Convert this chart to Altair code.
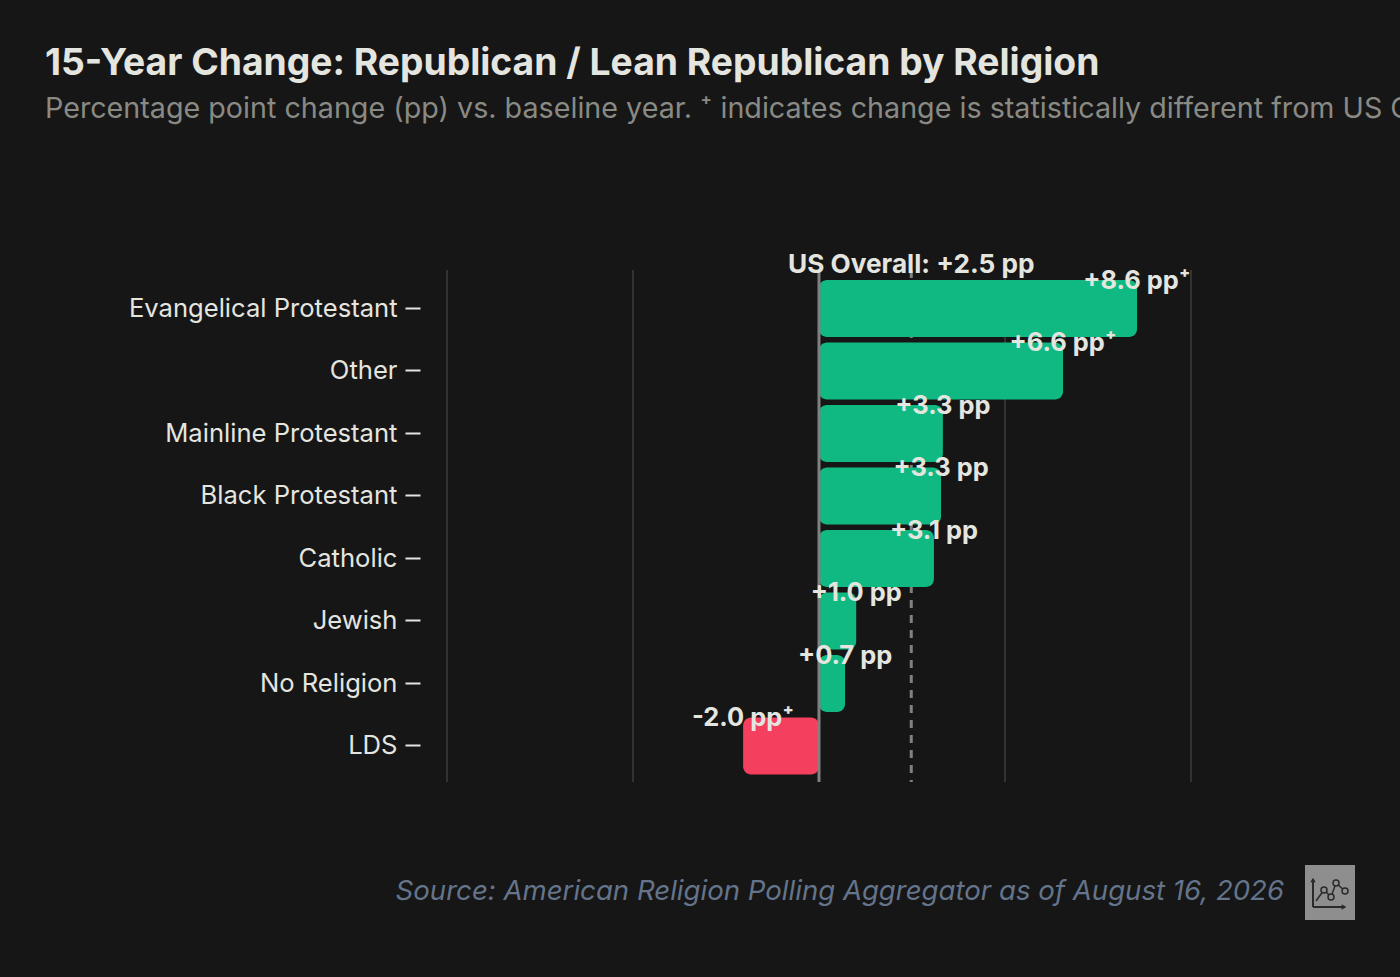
import altair as alt
import pandas as pd

categories = ["Evangelical Protestant", "Other", "Mainline Protestant", "Black Protestant",
              "Catholic", "Jewish", "No Religion", "LDS"]
values = [8.55, 6.56, 3.33, 3.28, 3.09, 1.0, 0.7, -2.04]
labels = ["+8.6 pp⁺", "+6.6 pp⁺", "+3.3 pp", "+3.3 pp", "+3.1 pp", "+1.0 pp", "+0.7 pp", "-2.0 pp⁺"]
overall = 2.48
x_ticks = [-10, -5, 0, 5, 10]
icon_line_x = [1316, 1324, 1331, 1336, 1345]
icon_line_y = [901, 890, 897, 883, 891]

TITLE = "15-Year Change: Republican / Lean Republican by Religion"
SUBTITLE = "Percentage point change (pp) vs. baseline year. ⁺ indicates change is statistically different from US Overall"
SOURCE = "Source: American Religion Polling Aggregator as of August 16, 2026"
BG = "#161616"
FONT = "Inter"
TEXT = "#e5e5e0"
OX, OY = 447, 270   # left/top padding

df = pd.DataFrame({"cat": categories, "val": values, "label": labels})
xs = alt.Scale(domain=[-10, 10], nice=False, zero=False)
ys = alt.Scale(domain=categories, paddingInner=0.088, paddingOuter=0.14, align=0.57)

grid = alt.Chart(pd.DataFrame({"x": x_ticks})).mark_rule(color="#333333", strokeWidth=2).encode(
    x=alt.X("x:Q", scale=xs, axis=None))

us = alt.Chart(pd.DataFrame({"x": [overall]})).mark_rule(
    color="#808080", strokeWidth=3, strokeDash=[8, 7]).encode(x=alt.X("x:Q", scale=xs, axis=None))

zero = alt.Chart(pd.DataFrame({"x": [0]})).mark_rule(color="#808080", strokeWidth=3).encode(
    x=alt.X("x:Q", scale=xs, axis=None))

bars = alt.Chart(df).mark_bar(cornerRadius=8).encode(
    x=alt.X("val:Q", scale=xs, axis=None),
    x2=alt.X2(datum=0),
    y=alt.Y("cat:N", scale=ys, sort=categories, title=None,
            axis=alt.Axis(domain=False, grid=False, offset=27, tickSize=15, tickWidth=2,
                          tickColor=TEXT, labelPadding=8, labelFontSize=25.6, labelOffset=0.5,
                          labelColor=TEXT, labelFont=FONT, labelFontWeight=400, labelLimit=400)),
    color=alt.condition(alt.datum.val >= 0, alt.value("#10b981"), alt.value("#f43f5e")),
)

texts = alt.Chart(df).mark_text(font=FONT, fontSize=25.4, fontWeight=700, color=TEXT,
                                align="center", baseline="middle", dy=1).encode(
    x=alt.X("val:Q", scale=xs, axis=None),
    y=alt.Y("cat:N", scale=ys, sort=categories, bandPosition=0, title=None),
    text="label:N",
)

us_text = alt.Chart(pd.DataFrame({"x": [overall], "t": ["US Overall: +2.5 pp"]})).mark_text(
    font=FONT, fontSize=26.2, fontWeight=700, color=TEXT, align="center", baseline="middle"
).encode(x=alt.X("x:Q", scale=xs, axis=None), y=alt.value(265 - OY), text="t:N")

source = alt.Chart(pd.DataFrame({"t": [SOURCE]})).mark_text(
    font=FONT, fontSize=27.6, fontStyle="italic", color="#64748b", align="right", baseline="middle"
).encode(x=alt.value(1284 - OX), y=alt.value(892 - OY), text="t:N")

def rx(v):
    return alt.value(v - OX)
def ry(v):
    return alt.value(v - OY)

one = pd.DataFrame({"a": [0]})
INK = "#2a2a2a"
icon_df = pd.DataFrame({"x": [v - OX for v in icon_line_x], "y": [v - OY for v in icon_line_y]})
icon_bg = alt.Chart(one).mark_rect(color="#8e8e8e").encode(x=rx(1305), x2=rx(1355), y=ry(865), y2=ry(920))
icon_v = alt.Chart(one).mark_rule(color=INK, strokeWidth=2).encode(x=rx(1313), y=ry(880), y2=ry(907))
icon_h = alt.Chart(one).mark_rule(color=INK, strokeWidth=2).encode(x=rx(1313), x2=rx(1345), y=ry(907))
icon_up = alt.Chart(one).mark_point(shape="triangle-up", filled=True, color=INK, size=30, opacity=1).encode(
    x=rx(1313), y=ry(880))
icon_right = alt.Chart(one).mark_point(shape="triangle-right", filled=True, color=INK, size=30, opacity=1).encode(
    x=rx(1344), y=ry(907))
icon_line = alt.Chart(icon_df).mark_line(color=INK, strokeWidth=1.5).encode(
    x=alt.X("x:Q", scale=None), y=alt.Y("y:Q", scale=None))
icon_pts = alt.Chart(icon_df.iloc[1:]).mark_point(
    filled=True, fill="#8e8e8e", stroke=INK, strokeWidth=1.5, size=36, opacity=1).encode(
    x=alt.X("x:Q", scale=None), y=alt.Y("y:Q", scale=None))

chart = alt.layer(grid, us, bars, zero, texts, us_text, source,
                  icon_bg, icon_v, icon_h, icon_up, icon_right, icon_line, icon_pts).properties(
    width=744, height=512,
    background=BG,
    autosize=alt.AutoSizeParams(type="none"),
    padding={"left": OX, "top": OY, "right": 1400 - OX - 744, "bottom": 977 - OY - 512},
    title=alt.TitleParams(text=TITLE, subtitle=SUBTITLE, anchor="start", frame="group",
                          dx=45 - OX, offset=127, font=FONT, fontSize=37.25, fontWeight=700,
                          color=TEXT, subtitleFont=FONT, subtitleFontSize=28.7,
                          subtitleColor="#8a8a85", subtitleFontWeight=400, subtitlePadding=12, limit=3000),
).configure_view(stroke=None)

PAGE_CSS = "html,body{margin:0;background:#161616;overflow:hidden}.vega-embed{display:block}.vega-embed svg{display:block}"
chart.save("out.html", embed_options={"renderer": "svg", "actions": False, "defaultStyle": PAGE_CSS})
